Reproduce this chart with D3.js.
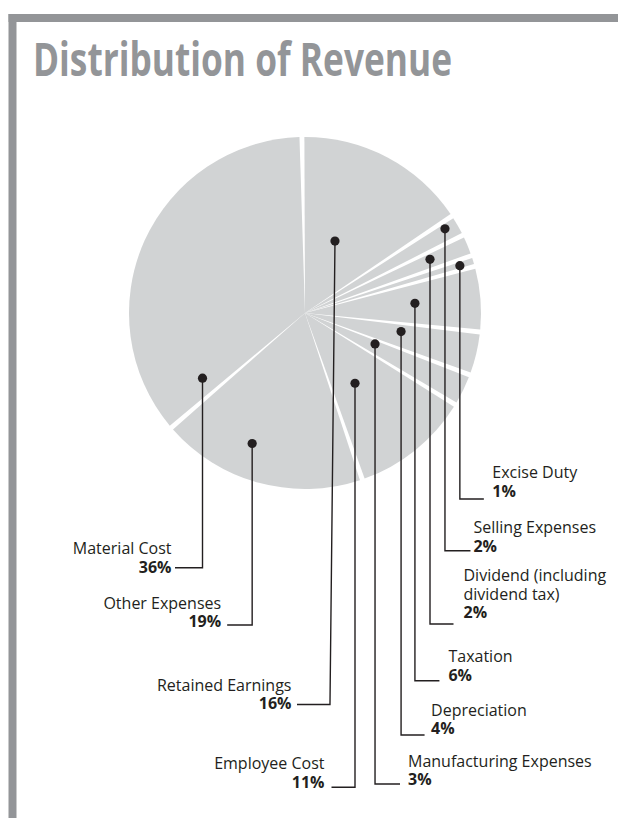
<!DOCTYPE html>
<html>
<head>
<meta charset="utf-8">
<script src="https://cdn.jsdelivr.net/npm/d3@7/dist/d3.min.js"></script>
<style>
  html, body { margin: 0; padding: 0; background: #ffffff; }
  svg { display: block; }
</style>
</head>
<body>
<svg id="chart" width="618" height="818"></svg>
<script>
// ---------------- data ----------------
const title = "Distribution of Revenue";
const categories = [
  "Retained Earnings", "Selling Expenses", "Dividend (including dividend tax)",
  "Excise Duty", "Taxation", "Depreciation", "Manufacturing Expenses",
  "Employee Cost", "Other Expenses", "Material Cost"
];
const values = [16, 2, 2, 1, 6, 4, 3, 11, 19, 36];
const nameLines = [
  ["Retained Earnings"], ["Selling Expenses"], ["Dividend (including", "dividend tax)"],
  ["Excise Duty"], ["Taxation"], ["Depreciation"], ["Manufacturing Expenses"],
  ["Employee Cost"], ["Other Expenses"], ["Material Cost"]
];
const pctLabels = ["16%", "2%", "2%", "1%", "6%", "4%", "3%", "11%", "19%", "36%"];

// ---------------- layout (annotation placement) ----------------
// t: angular fraction inside the slice, rf: radius fraction for the dot,
// side: label side, y: baseline of % text, ly: connector y, arm: connector length,
// gap: space between connector and text, lean: horizontal shift of leader bottom
const layout = [
  { t: 0.41, rf: 0.443, side: "left",  y: 709,   ly: 704.5, arm: 33, gap: 5.5, lean: -5 },
  { t: 0.33, rf: 0.928, side: "right", y: 551.7, ly: 550.7, arm: 25.5, gap: 3, lean: 0 },
  { t: 0.41, rf: 0.773, side: "right", y: 618.3, ly: 624,   arm: 23.5, gap: 10, lean: 0 },
  { t: 0.56, rf: 0.92,  side: "right", y: 496.7, ly: 499,   arm: 24, gap: 8.5, lean: 0 },
  { t: 0.48, rf: 0.627, side: "right", y: 680.7, ly: 680.7, arm: 24.5, gap: 9, lean: 0 },
  { t: 0.33, rf: 0.556, side: "right", y: 734,   ly: 735,   arm: 23.5, gap: 6.5, lean: 0 },
  { t: 0.30, rf: 0.435, side: "right", y: 785,   ly: 784,   arm: 25, gap: 8, lean: 0 },
  { t: 0.585, rf: 0.49, side: "left",  y: 787.7, ly: 787.3, arm: 23.5, gap: 7, lean: 0 },
  { t: 0.60, rf: 0.80,  side: "left",  y: 627.3, ly: 625,   arm: 25, gap: 6, lean: 0 },
  { t: 0.063, rf: 0.69, side: "left",  y: 572.7, ly: 567.7, arm: 27.5, gap: 3.5, lean: 0 }
];

// ---------------- drawing ----------------
const svg = d3.select("#chart");
const frameColor = "#939598";
const pieColor = "#d1d3d4";
const ink = "#231f20";
const cx = 305, cy = 313, R = 176;
const startA = -1 * Math.PI / 180;

// frame
svg.append("rect").attr("x", 8.5).attr("y", 14).attr("width", 618 - 8.5).attr("height", 8).attr("fill", frameColor);
svg.append("rect").attr("x", 8.5).attr("y", 14).attr("width", 8).attr("height", 818 - 14).attr("fill", frameColor);

// title
svg.append("text")
  .attr("x", 33).attr("y", 76)
  .attr("textLength", 419).attr("lengthAdjust", "spacingAndGlyphs")
  .style("font-family", "'Open Sans', sans-serif")
  .style("font-weight", 700)
  .style("font-size", "46px")
  .attr("fill", frameColor)
  .text(title);

const data = categories.map((c, i) => ({ name: c, value: values[i], lines: nameLines[i], pct: pctLabels[i], lay: layout[i] }));

const pie = d3.pie().sort(null).value(d => d.value)
  .startAngle(startA).endAngle(startA + 2 * Math.PI);
const arcs = pie(data);

const arc = d3.arc().innerRadius(0).outerRadius(R).padAngle(0.028);

const g = svg.append("g").attr("transform", `translate(${cx},${cy})`);
g.selectAll("path.slice").data(arcs).join("path")
  .attr("class", "slice")
  .attr("d", d => arc({ startAngle: d.startAngle, endAngle: d.endAngle }))
  .attr("fill", pieColor);

// leaders & labels
arcs.forEach(d => {
  const L = d.data.lay;
  const a = d.startAngle + L.t * (d.endAngle - d.startAngle);
  const r = L.rf * R;
  const dx = cx + r * Math.sin(a);
  const dy = cy - r * Math.cos(a);
  const bx = dx + L.lean;
  const dir = L.side === "left" ? -1 : 1;
  const ex = bx + dir * L.arm;

  svg.append("path")
    .attr("d", `M${dx},${dy} L${bx},${L.ly} L${ex},${L.ly}`)
    .attr("fill", "none").attr("stroke", ink).attr("stroke-width", 1.4);

  svg.append("circle").attr("cx", dx).attr("cy", dy).attr("r", 4.6).attr("fill", ink);

  const tx = ex + dir * L.gap;
  const anchor = L.side === "left" ? "end" : "start";
  const n = d.data.lines.length;
  d.data.lines.forEach((line, k) => {
    svg.append("text")
      .attr("x", tx).attr("y", L.y - 18.5 * (n - k))
      .attr("text-anchor", anchor)
      .style("font-family", "'Open Sans', sans-serif")
      .style("font-size", "16px")
      .attr("fill", ink)
      .text(line);
  });
  svg.append("text")
    .attr("x", tx).attr("y", L.y)
    .attr("text-anchor", anchor)
    .style("font-family", "'Open Sans', sans-serif")
    .style("font-weight", 700)
    .style("font-size", "16px")
    .attr("fill", ink)
    .text(d.data.pct);
});
</script>
</body>
</html>
